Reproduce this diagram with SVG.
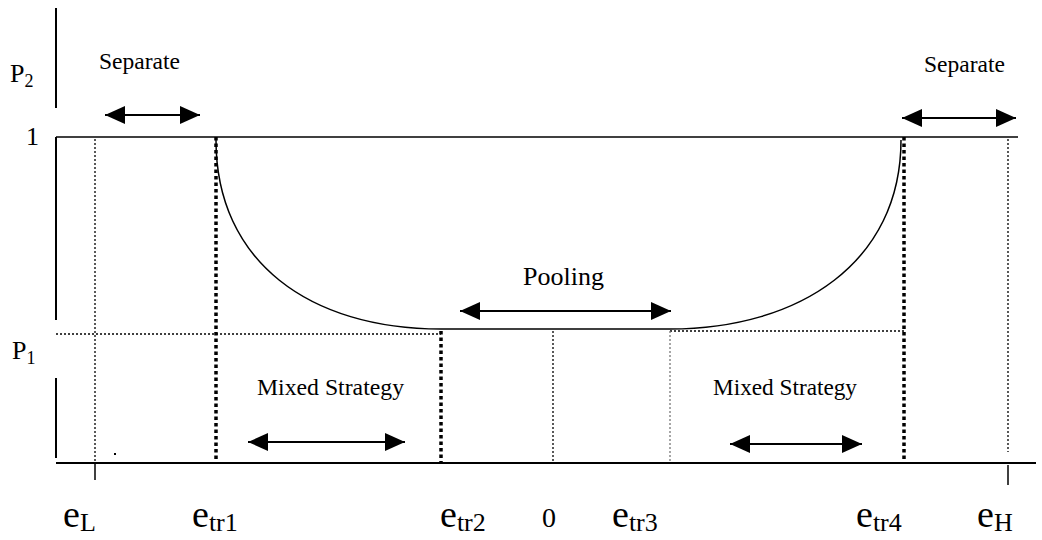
<svg xmlns="http://www.w3.org/2000/svg" width="1042" height="540" viewBox="0 0 1042 540">
<style>
text{font-family:"Liberation Serif","Times New Roman",serif;fill:#000}
.ax{stroke:#000;stroke-width:2;fill:none}
.thin{stroke:#000;stroke-width:1.5;fill:none}
.dot{stroke:#000;stroke-width:1.3;stroke-dasharray:2 2;fill:none}
.gdot{stroke:#777;stroke-width:1.3;stroke-dasharray:2 2;fill:none}
.tdot{stroke:#000;stroke-width:3.5;stroke-dasharray:3.5 3;fill:none}
.arr{stroke:#000;stroke-width:2;fill:none;marker-start:url(#ah);marker-end:url(#ah)}
.lbl{font-size:24px}
.big{font-size:26px}
.e{font-size:38px}
.sub{font-size:26px}
</style>
<defs>
<marker id="ah" markerUnits="userSpaceOnUse" markerWidth="22" markerHeight="20" refX="20" refY="9" orient="auto-start-reverse">
<path d="M0,0 L20,9 L0,18 Z" fill="#000"/>
</marker>
</defs>
<rect width="1042" height="540" fill="#fff"/>
<g id="axes">
<line class="ax" x1="56" y1="8" x2="56" y2="108"/>
<line class="ax" x1="56" y1="137" x2="56" y2="320"/>
<line class="ax" x1="56" y1="378" x2="56" y2="458"/>
<line class="ax" x1="56" y1="463" x2="1036" y2="463"/>
<line class="thin" x1="56" y1="137" x2="1018" y2="137"/>
<line class="thin" x1="95" y1="463" x2="95" y2="480"/>
<line class="thin" x1="1008" y1="465" x2="1008" y2="485"/>
</g>
<g id="guides">
<line class="dot" x1="95" y1="139" x2="95" y2="463"/>
<line class="dot" x1="1008" y1="139" x2="1008" y2="452"/>
<line class="dot" x1="56" y1="334" x2="441" y2="334"/>
<line class="dot" x1="670" y1="331" x2="904" y2="331"/>
<line class="dot" x1="553" y1="331" x2="553" y2="463"/>
<line class="gdot" x1="670" y1="331" x2="670" y2="463"/>
<line class="tdot" x1="216" y1="137" x2="216" y2="463"/>
<line class="tdot" x1="441" y1="331" x2="441" y2="463"/>
<line class="tdot" x1="904" y1="137" x2="904" y2="463"/>
<rect x="114" y="453" width="2" height="2" fill="#000"/>
</g>
<g id="curve">
<path class="thin" d="M216,140 C216,262 310,329 441,329 L670,329 C800,329 901,262 901,140"/>
</g>
<g id="connectors">
<line class="arr" x1="105" y1="115" x2="200" y2="115"/>
<line class="arr" x1="902" y1="118" x2="1016" y2="118"/>
<line class="arr" x1="460" y1="311" x2="671" y2="311"/>
<line class="arr" x1="248" y1="442" x2="405" y2="442"/>
<line class="arr" x1="730" y1="444" x2="862" y2="444"/>
</g>
<g id="labels">
<text class="lbl" x="99" y="69" textLength="81" lengthAdjust="spacingAndGlyphs">Separate</text>
<text class="lbl" x="924" y="72" textLength="81" lengthAdjust="spacingAndGlyphs">Separate</text>
<text class="big" x="523" y="285">Pooling</text>
<text class="lbl" x="257" y="395" textLength="147" lengthAdjust="spacingAndGlyphs">Mixed Strategy</text>
<text class="lbl" x="713" y="395" textLength="144" lengthAdjust="spacingAndGlyphs">Mixed Strategy</text>
<text class="big" x="10" y="82">P<tspan font-size="18" dy="5">2</tspan></text>
<text class="big" x="26" y="145">1</text>
<text class="big" x="12" y="359">P<tspan font-size="18" dy="5">1</tspan></text>
<text class="e" x="63" y="527">e<tspan class="sub" dy="4">L</tspan></text>
<text class="e" x="192" y="527">e<tspan class="sub" dy="4">tr1</tspan></text>
<text class="e" x="440" y="527">e<tspan class="sub" dy="4">tr2</tspan></text>
<text x="542" y="527" font-size="28">0</text>
<text class="e" x="612" y="527">e<tspan class="sub" dy="4">tr3</tspan></text>
<text class="e" x="856" y="527">e<tspan class="sub" dy="4">tr4</tspan></text>
<text class="e" x="977" y="527">e<tspan class="sub" dy="4">H</tspan></text>
</g>
</svg>
